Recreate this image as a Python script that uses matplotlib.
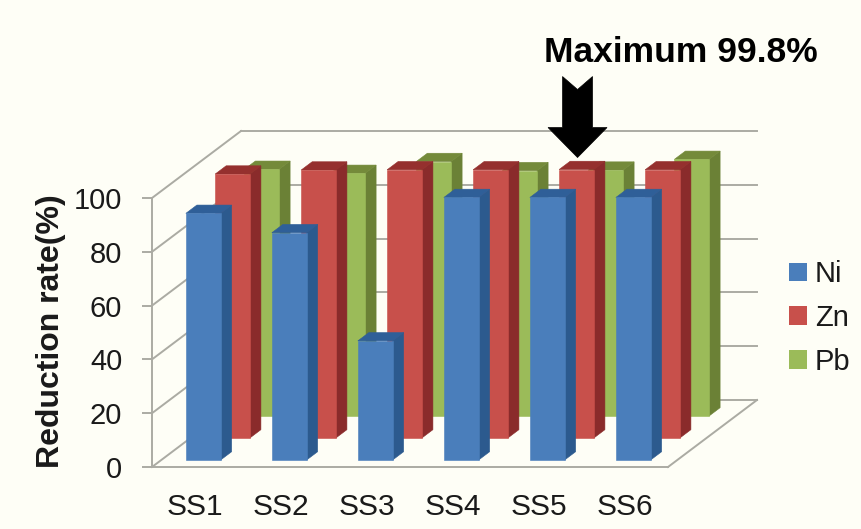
import matplotlib
matplotlib.use("Agg")
import matplotlib.pyplot as plt
from matplotlib.patches import Polygon, Patch

plt.rcParams['font.family'] = ['Liberation Sans', 'DejaVu Sans']

categories = ["SS1", "SS2", "SS3", "SS4", "SS5", "SS6"]
ni_values = [91.7, 84.5, 44.3, 97.6, 97.6, 97.6]
zn_values = [98.1, 99.6, 99.7, 99.7, 99.8, 99.7]
pb_values = [91.7, 90.2, 94.6, 91.2, 91.4, 95.4]
y_ticks = [0, 20, 40, 60, 80, 100]

W, H = 861, 529
BG = "#FEFEF6"
GRID = "#ABABA3"
TEXT = "#1A1A1A"

# Floor rectangle of the plot in figure pixels
LEFT, RIGHT, BOTTOM, TOP = 152, 668, 467, 198
# Oblique offset of the back wall, in pixels
DEPTH_X, DEPTH_Y = 89, 67

BAR_WIDTH = 0.404
BAR_DEPTH = 0.124
BAR_SHIFT = -0.012

fig = plt.figure(figsize=(W / 100, H / 100), dpi=100, facecolor=BG)
ax = fig.add_axes([LEFT / W, 1 - BOTTOM / H, (RIGHT - LEFT) / W, (BOTTOM - TOP) / H])
ax.set_xlim(0, len(categories))
ax.set_ylim(0, 100)
ax.patch.set_alpha(0)

ux = (RIGHT - LEFT) / len(categories)
uy = (BOTTOM - TOP) / 100


def project(x, value, depth):
    """Oblique projection of a (category, value, depth) point onto the axes."""
    return x + depth * DEPTH_X / ux, value + depth * DEPTH_Y / uy


def draw_bar(center, value, depth, front, side, top, z):
    x0, x1 = center - BAR_WIDTH / 2, center + BAR_WIDTH / 2
    d0, d1 = depth, depth + BAR_DEPTH
    faces = [
        ([(x1, 0, d0), (x1, 0, d1), (x1, value, d1), (x1, value, d0)], side),
        ([(x0, value, d0), (x1, value, d0), (x1, value, d1), (x0, value, d1)], top),
        ([(x0, 0, d0), (x1, 0, d0), (x1, value, d0), (x0, value, d0)], front),
    ]
    for pts, color in faces:
        ax.add_patch(Polygon([project(*p) for p in pts], closed=True, facecolor=color,
                             edgecolor=color, linewidth=0.4, clip_on=False, zorder=z))


# Wall and floor lines
line_style = dict(color=GRID, linewidth=1.4, clip_on=False, zorder=1)
for v in y_ticks:
    ax.plot(*zip(project(0, v, 0), project(0, v, 1)), **line_style)
    ax.plot(*zip(project(0, v, 1), project(6, v, 1)), **line_style)
ax.plot(*zip(project(6, 0, 0), project(6, 0, 1)), **line_style)

# Bars, drawn from the back row to the front row
series = [
    ("Pb", pb_values, 0.761, "#9BBB59", "#6B8136", "#748A3A"),
    ("Zn", zn_values, 0.433, "#C8504B", "#8A2B2B", "#95302E"),
    ("Ni", ni_values, 0.104, "#4A7EBB", "#2C5A8E", "#2F5F98"),
]
for rank, (name, values, depth, front, side, top) in enumerate(series):
    for i, v in enumerate(values):
        draw_bar(i + 0.5 + BAR_SHIFT, v, depth, front, side, top, 3 + rank)

# Block arrow pointing at the best Zn result
peak = zn_values.index(max(zn_values))
tip_x, tip_y = project(peak + 0.5, max(zn_values), 0.433)
tip_y += 12 / uy
half_head, half_shaft = 29.5 / ux, 15 / ux
arrow = [
    (tip_x, tip_y),
    (tip_x + half_head, tip_y + 30 / uy),
    (tip_x + half_shaft, tip_y + 30 / uy),
    (tip_x + half_shaft, tip_y + 81 / uy),
    (tip_x, tip_y + 68 / uy),
    (tip_x - half_shaft, tip_y + 81 / uy),
    (tip_x - half_shaft, tip_y + 30 / uy),
    (tip_x - half_head, tip_y + 30 / uy),
]
ax.add_patch(Polygon(arrow, closed=True, facecolor="black", edgecolor="black",
                     linewidth=0.5, clip_on=False, zorder=8))
fig.text(681 / W, 1 - 53 / H, f"Maximum {max(zn_values):.1f}%", fontsize=25.5,
         fontweight="bold", color="black", ha="center", va="center")

# Axes furniture
for side_name in ("top", "right"):
    ax.spines[side_name].set_visible(False)
for side_name in ("left", "bottom"):
    ax.spines[side_name].set_color(GRID)
    ax.spines[side_name].set_linewidth(1.4)
    ax.spines[side_name].set_zorder(2)

ax.set_yticks(y_ticks)
ax.set_xticks([i + 0.5 for i in range(len(categories))], categories)
ax.tick_params(axis="y", length=7.5, width=1.4, color=GRID, labelsize=21, labelcolor=TEXT, pad=14)
ax.tick_params(axis="x", length=0, labelsize=21.5, labelcolor=TEXT, pad=18.5)
ax.set_ylabel("Reduction rate(%)", fontsize=23, fontweight="bold", color=TEXT)
ax.yaxis.set_label_coords((66 - LEFT) / (RIGHT - LEFT), (BOTTOM - 331.5) / (BOTTOM - TOP))

handles = [Patch(facecolor=s[3], label=s[0]) for s in reversed(series)]
leg = ax.legend(handles=handles, loc="center left", bbox_to_anchor=(789 / W, 1 - 318 / H),
                bbox_transform=fig.transFigure, frameon=False, fontsize=21, handlelength=0.62,
                handleheight=0.62, handletextpad=0.27, labelspacing=0.54, borderpad=0,
                borderaxespad=0, labelcolor=TEXT)

fig.savefig("out.png", dpi=100, facecolor=BG)
